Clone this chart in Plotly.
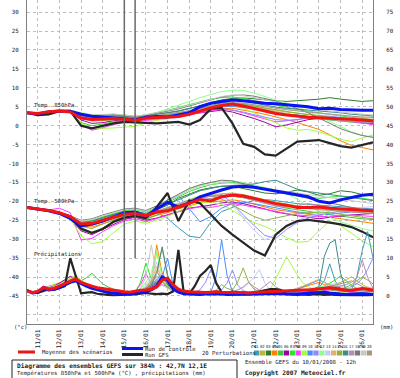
import plotly.graph_objects as go
import pandas as pd

# ---------------- time axes ----------------
t12 = pd.date_range("2008-01-10 12:00", periods=33, freq="12h")   # temperatures
t6 = pd.date_range("2008-01-10 12:00", periods=65, freq="6h")     # precipitation
day_ticks = pd.date_range("2008-01-11", "2008-01-26", freq="D")
day_labels = ["11/01", "12/01", "13/01", "14/01", "15/01", "16/01", "17/01", "18/01",
              "19/01", "20/01", "21/01", "22/01", "23/01", "24/01", "25/01", "26/01"]

member_names = ["01", "02", "03", "04", "05", "06", "07", "08", "09", "10",
                "11", "12", "13", "14", "15", "16", "17", "18", "19", "20"]
member_colors = ["#3c9cbc", "#c0b43c", "#2d7d2d", "#ff8000", "#3cc83c", "#a000a0", "#28e628",
                 "#ff3cff", "#a0ff3c", "#4c8cff", "#8c8cff", "#8cff8c", "#c8c8ff", "#e0b070",
                 "#8cb43c", "#3c8c8c", "#b48cb4", "#787878", "#c8c8c8", "#a89880"]

# ---------------- mean / control / GFS ----------------
mean_t850 = [3.4, 3.2, 3.7, 3.9, 3.6, 2.0, 1.6, 1.8, 1.9, 1.7, 1.4, 2.0, 2.1, 2.2, 2.4, 3.0, 3.9,
             4.7, 5.3, 5.7, 5.2, 4.5, 3.7, 3.2, 2.8, 2.5, 2.2, 2.1, 1.9, 1.8, 1.7, 1.4, 1.3]
ctrl_t850 = [3.4, 3.1, 3.6, 3.9, 3.8, 3.0, 2.5, 2.3, 2.2, 1.8, 1.5, 2.2, 2.4, 2.3, 2.8, 3.4, 5.0,
             5.9, 6.4, 6.8, 6.6, 6.3, 5.9, 5.8, 5.6, 5.3, 5.0, 4.5, 4.6, 4.3, 4.1, 4.1, 4.1]
gfs_t850 = [3.4, 2.8, 3.0, 3.8, 3.9, 0.0, -0.7, 0.0, 0.6, 1.0, 0.9, 0.8, 0.6, 0.8, 1.0, 0.3, 1.5,
            4.5, 4.7, 0.6, -4.8, -5.6, -7.6, -7.9, -6.0, -4.2, -4.0, -3.8, -4.6, -5.4, -5.8, -5.2, -4.4]

mean_t500 = [-21.6, -22.0, -22.4, -23.0, -24.0, -26.0, -25.8, -25.0, -24.2, -23.4, -23.2, -23.8,
             -22.8, -22.5, -21.5, -20.5, -19.5, -19.9, -18.8, -18.3, -18.6, -19.2, -20.0, -20.6,
             -21.0, -21.6, -21.6, -21.5, -21.8, -22.0, -22.3, -22.4, -22.5]
ctrl_t500 = [-21.6, -22.0, -22.5, -23.2, -24.5, -26.5, -26.0, -25.2, -24.0, -23.0, -22.8, -24.0,
             -22.0, -20.2, -21.5, -20.5, -18.8, -17.8, -17.0, -16.2, -16.0, -16.3, -16.8, -17.3,
             -17.9, -18.4, -18.8, -20.0, -20.4, -19.6, -19.0, -18.4, -18.1]
gfs_t500 = [-21.6, -22.0, -22.4, -23.0, -24.2, -27.2, -28.3, -27.3, -25.4, -24.3, -23.8, -24.5,
            -21.5, -17.8, -25.2, -19.8, -20.5, -23.5, -26.5, -28.8, -31.0, -33.0, -34.3, -28.8,
            -26.5, -25.2, -24.9, -25.2, -25.6, -26.1, -26.8, -28.0, -29.5]

mean_rr = [1.4, 0.9, 1.2, 2.2, 1.8, 2.0, 2.6, 3.2, 3.9, 4.5, 3.6, 3.0, 2.6,
           2.2, 2.0, 1.7, 1.5, 1.2, 1.1, 1.0, 1.3, 1.5, 1.6, 1.8, 2.4, 4.2,
           4.7, 3.0, 1.8, 1.3, 1.1, 1.0, 0.9, 0.9, 1.0, 1.1, 1.0, 0.9, 0.8,
           0.9, 0.9, 0.8, 0.9, 1.0, 1.1, 1.2, 1.3, 1.4, 1.4, 1.5, 1.5, 1.6,
           1.6, 1.8, 2.0, 2.2, 2.2, 2.0, 1.7, 1.5, 1.5, 1.8, 2.0, 1.8, 1.6]
ctrl_rr = [1.4, 0.8, 1.0, 2.0, 1.6, 1.8, 2.2, 3.0, 3.6, 4.0, 3.2, 2.6, 2.0,
           1.6, 1.2, 0.9, 0.7, 0.6, 0.5, 0.5, 0.7, 0.9, 1.2, 1.6, 2.6, 5.0,
           4.2, 2.0, 1.0, 0.6, 0.5, 0.4, 0.4, 0.5, 0.5, 0.6, 0.5, 0.4, 0.4,
           0.5, 0.5, 0.4, 0.4, 0.5, 0.6, 0.6, 0.7, 0.6, 0.5, 0.5, 0.6, 0.6,
           0.7, 0.8, 0.9, 1.0, 0.8, 0.6, 0.5, 0.4, 0.4, 0.5, 0.6, 0.5, 0.4]
gfs_rr = [1.5, 0.9, 0.8, 1.4, 1.8, 1.6, 2.2, 2.6, 10.0, 5.2, 0.7, 0.9, 1.0,
          0.6, 0.4, 0.3, 0.2, 0.2, 0.3, 0.3, 0.4, 0.6, 0.8, 0.6, 0.5, 0.6,
          0.5, 1.2, 12.2, 0.8, 0.6, 2.5, 5.3, 6.6, 8.2, 3.4, 1.0, 0.8, 1.2,
          0.6, 0.5, 0.4, 0.6, 1.2, 1.5, 1.8, 1.8, 1.6, 0.5, 0.4, 0.3, 0.4,
          0.3, 0.4, 0.5, 0.3, 0.4, 0.3, 0.2, 0.3, 0.2, 0.3, 0.2, 0.2, 0.3]

# one perturbation with an aberrant precipitation value on 15/01
spike_times = ["2008-01-15 00:00", "2008-01-15 06:00", "2008-01-15 12:00"]
spike_mm = [1.6, 20000.0, 10.0]

# ---------------- 20 perturbations : T850 ----------------
t850_m01 = [3.4, 3.2, 3.6, 3.9, 3.7, 2.4, 1.8, 2.0, 2.2, 2.0, 1.7, 2.3, 2.6, 2.9, 3.3, 3.8, 4.6, 5.4, 6.0, 6.2, 5.8, 5.0, 4.2, 3.6, 3.1, 2.8, 2.6, 2.2, 1.8, 1.5, 1.2, 0.9, 0.8]
t850_m02 = [3.3, 3.1, 3.5, 4.0, 3.9, 2.8, 2.4, 2.3, 2.4, 2.1, 1.9, 2.1, 2.3, 2.5, 3.0, 3.6, 4.2, 5.0, 5.6, 5.9, 5.6, 5.2, 4.6, 4.0, 3.6, 3.3, 3.0, 2.6, 2.4, 2.0, 1.7, 1.9, 2.1]
t850_m03 = [3.4, 3.3, 3.7, 4.0, 3.8, 3.2, 2.6, 2.5, 2.6, 2.4, 2.0, 2.5, 2.9, 3.3, 3.8, 4.5, 5.3, 6.1, 6.8, 7.2, 7.3, 7.1, 6.8, 6.6, 6.4, 6.5, 6.8, 7.0, 7.4, 7.0, 6.6, 6.4, 6.6]
t850_m04 = [3.4, 3.0, 3.4, 3.8, 3.7, 2.2, 1.5, 1.6, 1.9, 1.8, 1.5, 1.8, 2.0, 2.2, 2.5, 3.0, 3.6, 4.1, 4.5, 4.6, 4.2, 3.6, 3.0, 2.4, 1.6, 0.8, 0.0, -1.0, -2.4, -4.0, -5.2, -5.9, -6.4]
t850_m05 = [3.4, 3.1, 3.5, 3.9, 3.6, 0.8, 0.0, 0.4, 1.0, 1.3, 1.2, 1.6, 1.9, 2.0, 2.4, 3.0, 3.8, 4.4, 5.0, 5.3, 5.0, 4.6, 4.0, 3.5, 3.1, 2.8, 2.3, 1.9, 1.5, 1.2, 1.0, 0.6, 0.4]
t850_m06 = [3.4, 3.2, 3.6, 3.9, 3.7, 1.5, 0.6, 0.8, 1.3, 1.6, 1.5, 1.9, 2.1, 2.3, 2.6, 3.0, 3.4, 3.8, 4.1, 3.6, 2.8, 1.9, 0.9, -0.3, 0.2, 1.0, 1.6, 1.9, 2.0, 1.6, 1.2, 0.8, 0.6]
t850_m07 = [3.4, 3.2, 3.6, 4.0, 3.9, 3.0, 2.6, 2.8, 3.0, 2.8, 2.5, 2.8, 3.3, 4.0, 4.8, 5.6, 6.4, 7.0, 7.4, 7.6, 7.2, 6.6, 5.9, 5.3, 4.8, 4.3, 3.8, 3.4, 2.9, 2.6, 2.2, 2.0, 2.3]
t850_m08 = [3.4, 3.1, 3.5, 3.8, 3.6, 0.2, -1.2, -0.6, 0.3, 0.9, 1.0, 1.4, 1.6, 1.9, 2.2, 2.8, 3.5, 4.0, 4.3, 4.1, 3.4, 2.7, 1.8, 1.0, 1.2, 1.6, 2.0, 2.2, 1.9, 1.5, 1.0, 0.6, 0.3]
t850_m09 = [3.4, 3.2, 3.6, 3.9, 3.6, 0.6, -0.6, -0.7, -0.6, -0.4, -0.2, 0.8, 1.4, 1.8, 2.4, 3.2, 4.2, 5.0, 5.6, 5.4, 4.6, 3.4, 2.0, 0.6, -0.6, -1.2, -1.0, -1.6, -2.6, -3.6, -4.2, -3.2, -2.4]
t850_m10 = [3.4, 3.2, 3.6, 3.9, 3.8, 2.6, 2.0, 2.1, 2.3, 2.0, 1.6, 2.0, 2.2, 2.4, 2.7, 3.2, 3.9, 4.6, 5.0, 5.1, 4.8, 4.4, 3.8, 3.3, 2.9, 2.6, 2.4, 2.1, 2.0, 1.6, 1.2, 1.0, 0.9]
t850_m11 = [3.4, 3.1, 3.5, 3.9, 3.7, 2.5, 1.9, 2.0, 2.2, 1.9, 1.6, 2.1, 2.4, 2.6, 3.0, 3.5, 4.0, 4.4, 4.6, 4.2, 3.6, 2.9, 2.2, 1.6, 1.4, 1.6, 2.2, 2.6, 2.5, 2.1, 1.8, 1.5, 1.3]
t850_m12 = [3.4, 3.3, 3.7, 4.1, 4.0, 3.4, 2.9, 2.9, 3.0, 2.8, 2.4, 2.9, 3.5, 4.4, 5.3, 6.4, 7.4, 8.3, 9.0, 9.4, 9.3, 8.6, 7.6, 6.8, 6.0, 5.0, 3.8, 2.4, 1.0, -0.4, -1.6, -2.6, -3.0]
t850_m13 = [3.4, 3.2, 3.6, 3.9, 3.8, 2.9, 2.3, 2.4, 2.5, 2.3, 2.1, 2.5, 2.8, 3.1, 3.5, 4.0, 4.6, 5.2, 5.8, 6.2, 6.0, 5.6, 5.1, 4.7, 4.3, 4.0, 3.6, 3.2, 3.0, 2.7, 2.4, 2.2, 2.1]
t850_m14 = [3.4, 3.1, 3.5, 3.9, 3.7, 2.7, 2.1, 2.2, 2.4, 2.2, 1.8, 2.2, 2.5, 2.7, 3.0, 3.4, 3.9, 4.5, 5.1, 5.5, 5.4, 5.0, 4.4, 3.8, 3.2, 2.6, 2.0, 1.8, 1.6, 1.4, 1.3, 1.4, 1.5]
t850_m15 = [3.4, 3.2, 3.6, 3.9, 3.7, 2.0, 1.2, 1.3, 1.6, 1.7, 1.6, 2.0, 2.4, 2.8, 3.3, 3.9, 4.5, 5.2, 5.8, 6.0, 5.7, 5.2, 4.7, 4.2, 3.7, 3.3, 2.9, 2.5, 2.2, 1.9, 1.5, 1.1, 0.9]
t850_m16 = [3.4, 3.2, 3.6, 4.0, 3.8, 2.8, 2.2, 2.4, 2.6, 2.4, 2.1, 2.6, 3.0, 3.4, 3.9, 4.6, 5.2, 5.8, 6.4, 6.7, 6.5, 6.0, 5.4, 4.9, 4.6, 4.4, 4.2, 4.0, 3.7, 3.4, 3.0, 2.8, 2.6]
t850_m17 = [3.4, 3.1, 3.5, 3.9, 3.7, 2.3, 1.6, 1.7, 2.0, 1.9, 1.7, 2.1, 2.4, 2.7, 3.1, 3.6, 4.2, 4.8, 5.3, 5.5, 5.2, 4.7, 4.0, 3.4, 2.9, 2.5, 2.1, 1.8, 1.6, 1.3, 1.1, 0.9, 0.8]
t850_m18 = [3.4, 3.2, 3.6, 4.0, 3.9, 3.1, 2.7, 2.8, 2.9, 2.6, 2.3, 2.7, 3.2, 3.8, 4.4, 5.2, 6.0, 6.8, 7.6, 8.0, 8.1, 7.8, 7.2, 6.5, 5.6, 4.6, 3.4, 2.0, 0.6, -0.8, -1.8, -2.6, -3.1]
t850_m19 = [3.4, 3.2, 3.6, 4.0, 3.9, 3.2, 2.8, 3.0, 3.1, 2.8, 2.5, 2.9, 3.4, 4.0, 4.6, 5.4, 6.2, 7.0, 7.7, 8.1, 7.9, 7.4, 6.8, 6.1, 5.6, 5.1, 4.6, 4.2, 3.9, 3.6, 3.3, 3.0, 2.8]
t850_m20 = [3.4, 3.1, 3.5, 3.9, 3.7, 2.6, 2.0, 2.1, 2.3, 2.1, 1.8, 2.3, 2.7, 3.0, 3.4, 3.9, 4.5, 5.1, 5.7, 6.0, 5.9, 5.5, 5.0, 4.6, 4.2, 3.9, 3.6, 3.4, 3.1, 2.8, 2.5, 2.3, 2.2]

# ---------------- 20 perturbations : T500 ----------------
t500_m01 = [-21.6, -22.0, -22.4, -23.0, -23.8, -25.5, -25.8, -25.0, -24.0, -23.2, -23.0, -24.0, -23.0, -24.5, -27.0, -29.2, -29.6, -25.5, -22.7, -21.5, -20.5, -19.8, -19.5, -19.8, -20.2, -20.6, -20.8, -21.0, -21.2, -21.3, -21.6, -21.8, -22.0]
t500_m02 = [-21.6, -22.0, -22.5, -23.1, -24.2, -26.0, -26.3, -25.4, -24.6, -23.8, -23.4, -24.2, -23.2, -22.0, -20.8, -19.8, -19.0, -18.6, -18.0, -17.8, -18.2, -18.9, -19.6, -20.2, -20.7, -21.2, -21.6, -21.8, -22.0, -22.4, -22.8, -23.0, -23.2]
t500_m03 = [-21.6, -22.0, -22.4, -23.0, -24.0, -25.6, -25.2, -24.2, -23.4, -22.6, -22.6, -23.4, -22.2, -21.0, -19.2, -18.0, -17.0, -16.4, -16.0, -16.0, -16.5, -17.2, -17.8, -18.0, -17.6, -17.0, -17.5, -18.4, -18.0, -17.2, -17.5, -18.2, -18.6]
t500_m04 = [-21.6, -22.1, -22.5, -23.2, -24.3, -26.4, -26.8, -25.8, -25.0, -24.2, -23.8, -24.4, -23.8, -23.0, -22.0, -21.2, -20.4, -20.2, -19.8, -19.6, -20.0, -20.8, -21.6, -22.2, -22.6, -23.0, -23.4, -23.8, -24.2, -24.6, -25.0, -25.4, -25.8]
t500_m05 = [-21.6, -22.0, -22.4, -23.0, -24.5, -27.5, -28.5, -27.0, -25.6, -24.6, -24.0, -24.8, -23.6, -22.4, -21.0, -20.0, -19.4, -19.8, -19.0, -18.6, -19.0, -19.8, -20.6, -21.2, -21.8, -22.2, -22.6, -23.2, -23.6, -24.0, -24.4, -24.6, -24.8]
t500_m06 = [-21.6, -22.0, -22.5, -23.1, -24.6, -27.8, -28.8, -27.4, -26.0, -24.8, -24.2, -25.0, -24.4, -23.6, -22.6, -21.8, -21.4, -21.0, -20.4, -20.2, -20.6, -21.2, -22.0, -22.8, -23.4, -23.8, -24.2, -24.6, -24.2, -23.8, -23.6, -23.4, -23.2]
t500_m07 = [-21.6, -22.0, -22.4, -23.0, -24.0, -25.4, -25.0, -24.0, -23.2, -22.4, -22.2, -22.8, -21.8, -20.4, -18.8, -17.4, -16.4, -15.6, -15.2, -15.0, -15.4, -16.0, -16.6, -17.2, -17.8, -18.4, -18.8, -19.2, -19.0, -18.6, -18.8, -19.2, -19.6]
t500_m08 = [-21.6, -22.0, -22.3, -21.8, -23.0, -30.2, -29.8, -28.0, -26.4, -25.2, -24.6, -25.4, -24.6, -23.8, -22.8, -22.0, -21.4, -21.6, -21.0, -20.6, -21.0, -21.6, -22.2, -22.8, -23.2, -23.6, -23.8, -24.0, -24.0, -23.8, -23.6, -23.8, -24.0]
t500_m09 = [-21.6, -22.0, -22.4, -23.0, -24.8, -29.0, -31.2, -30.6, -28.4, -26.0, -25.2, -25.8, -25.0, -24.0, -22.6, -21.4, -20.4, -20.2, -20.8, -22.4, -24.2, -25.6, -26.6, -28.0, -29.6, -30.8, -30.6, -27.8, -25.2, -26.4, -28.4, -30.4, -32.0]
t500_m10 = [-21.6, -22.0, -22.4, -23.0, -24.0, -25.8, -25.6, -24.8, -24.0, -23.2, -23.0, -23.8, -21.8, -19.6, -18.4, -22.0, -25.4, -24.0, -21.8, -20.6, -20.2, -20.6, -21.2, -21.8, -22.4, -22.8, -23.2, -23.6, -23.4, -23.0, -22.8, -22.6, -22.4]
t500_m11 = [-21.6, -22.0, -22.5, -23.1, -24.2, -26.2, -26.4, -25.4, -24.6, -23.8, -23.4, -24.0, -23.0, -22.0, -21.0, -20.0, -19.2, -18.6, -18.2, -20.5, -23.6, -26.4, -29.0, -29.8, -27.4, -25.6, -24.4, -23.6, -23.0, -22.6, -22.4, -22.2, -22.0]
t500_m12 = [-21.6, -22.0, -22.4, -22.9, -23.8, -25.2, -24.8, -23.8, -23.0, -22.2, -22.0, -22.6, -21.4, -19.8, -18.2, -16.8, -15.8, -15.0, -14.8, -14.6, -15.0, -15.6, -16.2, -17.0, -18.0, -19.4, -21.2, -22.8, -24.2, -25.4, -26.4, -27.2, -27.8]
t500_m13 = [-21.6, -22.0, -22.4, -23.0, -24.0, -25.6, -25.4, -24.6, -23.8, -23.0, -22.8, -23.6, -22.6, -21.4, -20.4, -19.6, -19.0, -18.6, -18.8, -21.0, -24.4, -27.6, -30.2, -28.6, -26.4, -25.0, -24.0, -23.2, -22.6, -22.2, -21.8, -21.6, -21.4]
t500_m14 = [-21.6, -22.0, -22.5, -23.1, -24.2, -26.2, -26.0, -25.0, -24.2, -23.4, -23.2, -23.8, -22.8, -21.8, -20.6, -19.6, -18.8, -18.4, -18.0, -18.2, -18.8, -19.6, -20.4, -21.0, -21.4, -21.6, -21.8, -22.0, -22.2, -22.4, -22.6, -22.8, -23.0]
t500_m15 = [-21.6, -22.0, -22.4, -23.0, -24.2, -26.6, -27.2, -26.0, -24.8, -23.8, -23.4, -24.0, -23.0, -22.0, -20.8, -19.6, -18.6, -18.4, -19.4, -21.0, -22.6, -24.0, -25.0, -24.4, -23.6, -23.2, -23.0, -22.8, -23.0, -23.4, -23.8, -24.2, -24.6]
t500_m16 = [-21.6, -22.0, -22.4, -23.0, -24.0, -25.6, -25.2, -24.4, -23.6, -22.8, -22.6, -23.2, -22.0, -20.8, -19.4, -18.2, -17.2, -16.6, -16.0, -15.8, -15.6, -15.4, -14.8, -14.4, -15.6, -16.8, -17.4, -17.8, -18.2, -18.6, -19.0, -19.4, -19.8]
t500_m17 = [-21.6, -22.0, -22.4, -23.0, -24.0, -25.8, -26.0, -25.2, -24.4, -23.6, -23.4, -24.0, -23.0, -22.0, -21.0, -20.2, -19.6, -19.2, -18.8, -18.6, -19.0, -19.8, -20.6, -21.2, -21.6, -21.0, -20.6, -21.0, -21.6, -22.0, -22.4, -22.6, -22.8]
t500_m18 = [-21.6, -22.0, -22.4, -23.0, -23.8, -25.0, -24.6, -23.6, -22.8, -22.0, -21.8, -22.4, -21.2, -19.6, -18.0, -16.6, -15.6, -15.0, -14.4, -14.6, -15.2, -16.0, -16.8, -17.4, -18.0, -18.6, -19.2, -19.8, -20.4, -21.0, -21.6, -22.2, -22.8]
t500_m19 = [-21.6, -22.0, -22.4, -23.0, -23.9, -25.2, -24.8, -23.8, -23.0, -22.2, -22.0, -22.6, -21.6, -20.0, -18.4, -17.0, -16.0, -15.4, -15.0, -15.2, -15.6, -16.2, -16.6, -17.0, -17.4, -17.8, -18.2, -18.6, -19.0, -19.4, -19.8, -20.2, -20.6]
t500_m20 = [-21.6, -22.0, -22.4, -23.0, -24.0, -25.8, -25.6, -24.8, -24.0, -23.2, -23.0, -23.6, -22.6, -21.6, -20.6, -19.8, -19.0, -18.6, -18.4, -18.6, -19.0, -19.6, -20.2, -20.8, -21.2, -21.6, -22.0, -22.2, -22.4, -22.6, -22.8, -23.0, -23.2]

# ---------------- 20 perturbations : precipitation (mm / 6h) ----------------
rr_m01 = [1.6, 1.0, 1.4, 2.4, 2.0, 2.2, 3.0, 3.6, 4.2, 5.0, 3.8, 2.8, 2.4,
          2.0, 1.6, 1.3, 1.1, 0.9, 0.8, 0.7, 1.0, 1.4, 2.2, 3.0, 4.5, 6.0,
          3.5, 2.0, 1.2, 0.8, 0.6, 0.5, 0.6, 0.8, 1.0, 1.4, 1.2, 0.8, 0.7,
          0.6, 0.6, 0.8, 1.0, 1.2, 1.0, 0.8, 0.7, 0.6, 0.6, 0.8, 1.0, 1.2,
          1.5, 1.8, 2.2, 4.0, 8.5, 4.0, 1.6, 1.2, 1.6, 5.0, 12.0, 17.0, 10.0]
rr_m02 = [1.4, 0.8, 1.2, 2.0, 2.6, 3.0, 3.4, 4.0, 4.6, 5.4, 4.2, 3.2, 2.6,
          2.2, 1.8, 1.4, 1.0, 0.8, 0.6, 0.5, 0.8, 1.2, 1.8, 3.0, 6.5, 12.5,
          5.0, 2.0, 1.0, 0.8, 0.6, 0.5, 0.6, 0.8, 1.0, 1.2, 1.0, 0.8, 0.7,
          0.6, 0.6, 0.8, 1.0, 1.2, 1.4, 1.6, 1.4, 1.2, 1.0, 0.9, 1.0, 1.2,
          1.4, 1.6, 1.8, 2.2, 2.6, 3.2, 3.6, 4.2, 5.1, 4.0, 3.0, 2.2, 1.6]
rr_m03 = [1.5, 0.9, 1.0, 1.8, 1.6, 1.8, 2.4, 3.0, 3.6, 4.0, 3.2, 2.6, 2.2,
          1.8, 1.5, 1.2, 1.0, 0.8, 0.6, 0.5, 0.7, 1.0, 1.4, 2.0, 3.2, 4.5,
          3.0, 1.6, 1.0, 0.8, 0.6, 0.5, 0.4, 0.4, 0.5, 0.6, 0.5, 0.4, 0.4,
          0.3, 0.3, 0.4, 0.5, 0.6, 0.5, 0.4, 0.4, 0.5, 0.6, 0.7, 0.8, 0.9,
          1.0, 1.2, 1.6, 2.4, 3.0, 2.6, 2.0, 1.6, 1.4, 1.2, 1.0, 0.8, 0.7]
rr_m04 = [1.4, 0.8, 1.1, 2.0, 1.7, 1.9, 2.4, 3.0, 3.8, 4.4, 3.4, 2.8, 2.4,
          2.0, 1.8, 1.5, 1.2, 1.0, 0.8, 0.7, 1.0, 1.4, 2.0, 4.0, 13.5, 6.0,
          2.5, 1.4, 1.0, 0.8, 0.6, 0.5, 0.6, 0.7, 0.8, 0.7, 0.6, 0.5, 0.5,
          0.5, 0.5, 0.6, 0.8, 1.0, 1.2, 1.4, 1.6, 1.4, 1.2, 1.4, 1.8, 2.2,
          2.8, 3.2, 3.6, 3.0, 2.6, 2.2, 1.8, 1.6, 1.4, 1.2, 1.0, 0.8, 0.7]
rr_m05 = [1.6, 1.0, 1.3, 2.4, 2.0, 2.4, 3.0, 3.4, 3.8, 4.2, 4.0, 4.8, 6.0,
          4.6, 3.2, 2.4, 1.8, 1.2, 0.9, 0.7, 0.9, 1.2, 1.6, 2.4, 3.6, 5.2,
          3.8, 2.2, 1.4, 1.0, 0.8, 0.6, 0.5, 0.5, 0.6, 0.7, 0.6, 0.5, 0.5,
          0.5, 0.6, 0.7, 0.8, 0.9, 1.0, 1.1, 1.0, 0.9, 0.8, 0.8, 0.9, 1.0,
          1.1, 1.2, 1.4, 1.6, 1.8, 2.0, 1.8, 1.6, 1.4, 1.2, 1.1, 1.0, 0.9]
rr_m06 = [1.5, 1.0, 1.4, 2.6, 2.2, 2.6, 3.4, 4.2, 5.2, 4.6, 3.6, 2.8, 2.2,
          1.8, 1.4, 1.1, 0.9, 0.7, 0.5, 0.5, 0.7, 1.0, 1.5, 2.2, 3.4, 4.6,
          3.2, 1.8, 1.0, 0.7, 0.5, 0.4, 0.4, 0.5, 0.6, 0.6, 0.5, 0.5, 0.4,
          0.4, 0.4, 0.5, 0.6, 0.8, 1.0, 1.2, 1.0, 0.8, 0.7, 0.7, 0.8, 0.9,
          1.0, 1.2, 1.4, 1.6, 1.8, 1.6, 1.4, 1.2, 1.0, 0.9, 0.8, 0.7, 0.6]
rr_m07 = [1.4, 0.9, 1.2, 2.2, 1.8, 2.0, 2.8, 3.4, 4.0, 4.8, 3.8, 3.0, 2.6,
          2.2, 1.8, 1.4, 1.1, 0.9, 0.7, 0.6, 1.0, 3.6, 8.7, 4.4, 2.8, 3.6,
          2.6, 1.6, 1.0, 0.8, 0.6, 0.5, 0.5, 0.6, 0.7, 0.8, 0.7, 0.6, 0.6,
          0.5, 0.6, 0.8, 1.0, 1.2, 1.4, 1.2, 1.0, 0.9, 0.8, 0.9, 1.0, 1.2,
          1.4, 1.6, 2.0, 2.6, 3.4, 4.2, 5.3, 4.0, 2.8, 2.0, 1.6, 1.4, 1.2]
rr_m08 = [1.5, 0.9, 1.2, 2.2, 1.9, 2.2, 2.8, 3.6, 4.4, 4.8, 3.8, 3.0, 2.4,
          2.0, 1.6, 1.2, 1.0, 0.8, 0.6, 0.6, 1.2, 3.0, 6.0, 3.2, 2.4, 3.0,
          2.4, 1.4, 0.9, 0.7, 0.5, 0.4, 0.4, 0.5, 0.6, 0.7, 0.6, 0.5, 0.4,
          0.4, 0.5, 0.6, 0.8, 1.0, 1.2, 1.0, 0.8, 0.7, 0.6, 0.6, 0.7, 0.8,
          0.9, 1.0, 1.2, 1.4, 1.6, 1.4, 1.2, 1.0, 0.9, 0.8, 0.7, 0.6, 0.5]
rr_m09 = [1.6, 1.0, 1.3, 2.2, 2.0, 2.4, 3.0, 3.8, 4.4, 5.2, 4.2, 3.2, 2.6,
          2.2, 1.8, 1.4, 1.0, 0.8, 0.6, 0.6, 0.8, 1.2, 2.0, 4.0, 11.3, 5.0,
          2.6, 1.4, 1.0, 0.8, 0.6, 0.5, 0.6, 0.8, 1.0, 1.2, 1.0, 0.8, 0.7,
          0.7, 0.8, 0.9, 1.0, 1.2, 1.4, 1.8, 4.5, 7.5, 10.4, 8.0, 5.5, 3.5,
          2.5, 1.8, 1.4, 1.2, 1.0, 0.9, 0.8, 0.7, 0.6, 0.6, 0.5, 0.5, 0.5]
rr_m10 = [1.4, 0.8, 1.1, 2.0, 1.8, 2.0, 2.6, 3.2, 3.8, 4.4, 3.6, 2.8, 2.2,
          1.8, 1.4, 1.1, 0.9, 0.7, 0.6, 0.5, 0.8, 1.2, 1.8, 2.6, 3.6, 5.0,
          10.0, 3.0, 1.4, 0.9, 0.7, 0.6, 0.6, 0.8, 1.0, 5.0, 14.8, 5.5, 1.2,
          0.9, 0.8, 0.8, 0.9, 1.0, 1.2, 1.0, 0.9, 0.8, 0.9, 1.2, 1.8, 2.4,
          3.0, 3.6, 4.2, 3.6, 2.8, 2.0, 1.6, 1.4, 1.2, 1.0, 0.9, 0.8, 0.8]
rr_m11 = [1.5, 0.9, 1.2, 2.2, 1.8, 2.1, 2.8, 3.4, 4.0, 4.6, 3.6, 3.0, 2.4,
          2.0, 1.6, 1.3, 1.0, 0.8, 0.6, 0.5, 0.8, 1.2, 1.8, 2.8, 4.2, 6.0,
          4.0, 2.0, 1.2, 0.9, 0.8, 1.0, 1.6, 3.6, 7.0, 3.0, 1.6, 3.4, 6.9,
          2.8, 1.4, 1.0, 0.9, 1.0, 1.2, 1.4, 1.2, 1.0, 0.9, 1.0, 1.2, 1.4,
          1.6, 1.8, 2.2, 2.6, 2.2, 1.8, 1.6, 1.8, 2.4, 3.2, 4.6, 7.0, 10.0]
rr_m12 = [1.5, 0.9, 1.2, 2.0, 1.8, 2.0, 2.6, 3.2, 3.8, 4.4, 3.6, 2.8, 2.4,
          2.0, 1.6, 1.2, 1.0, 0.8, 0.6, 0.6, 1.0, 1.8, 3.6, 6.0, 12.0, 5.0,
          2.4, 1.4, 1.0, 0.8, 0.7, 0.6, 0.6, 0.7, 0.8, 0.8, 0.7, 0.6, 0.6,
          0.6, 0.7, 0.8, 1.0, 1.2, 1.4, 1.6, 1.4, 1.2, 1.0, 1.2, 1.4, 1.6,
          1.8, 2.0, 2.2, 2.6, 3.0, 2.8, 2.4, 2.0, 1.8, 1.6, 1.4, 1.2, 1.0]
rr_m13 = [1.4, 0.9, 1.1, 2.0, 1.7, 1.9, 2.5, 3.0, 3.6, 4.2, 3.4, 2.8, 2.2,
          1.8, 1.4, 1.1, 0.9, 0.7, 0.6, 0.5, 0.8, 1.4, 2.8, 5.0, 9.0, 4.0,
          2.0, 1.2, 0.9, 0.7, 0.6, 0.5, 0.5, 0.6, 0.7, 0.8, 0.9, 1.0, 1.2,
          1.6, 2.2, 3.4, 5.0, 7.0, 3.4, 1.6, 1.2, 1.0, 0.9, 1.0, 1.2, 1.4,
          1.6, 1.8, 2.0, 2.4, 2.8, 3.2, 2.8, 2.4, 2.0, 1.6, 1.4, 1.2, 1.0]
rr_m14 = [1.5, 1.0, 1.3, 2.2, 1.9, 2.2, 2.8, 3.4, 4.0, 4.6, 3.8, 3.0, 2.4,
          2.0, 1.6, 1.3, 1.0, 0.8, 0.7, 0.6, 0.9, 1.4, 2.4, 4.2, 7.8, 4.0,
          2.2, 1.4, 1.0, 0.8, 0.6, 0.5, 0.5, 0.6, 0.7, 0.8, 0.7, 0.6, 0.6,
          0.6, 0.7, 0.8, 1.0, 1.2, 1.4, 1.6, 1.8, 1.6, 1.4, 1.6, 2.0, 2.6,
          3.2, 3.8, 4.4, 3.6, 2.8, 2.2, 1.8, 1.6, 1.4, 1.6, 2.0, 2.4, 2.0]
rr_m15 = [1.4, 0.9, 1.2, 2.0, 1.8, 2.0, 2.6, 3.2, 3.8, 4.2, 3.4, 2.8, 2.2,
          1.8, 1.4, 1.1, 0.9, 0.7, 0.6, 0.5, 0.8, 1.2, 1.8, 2.6, 3.8, 5.4,
          3.6, 2.0, 1.2, 0.9, 0.7, 0.6, 0.6, 0.8, 1.0, 1.6, 3.0, 2.0, 1.6,
          3.8, 7.4, 3.6, 1.8, 1.2, 1.0, 0.9, 0.8, 0.8, 0.9, 1.0, 1.2, 1.4,
          1.6, 1.8, 2.0, 1.8, 1.6, 1.4, 1.6, 2.2, 3.0, 4.0, 5.0, 4.2, 3.2]
rr_m16 = [1.5, 0.9, 1.2, 2.2, 1.9, 2.1, 2.8, 3.4, 4.0, 4.6, 3.8, 3.0, 2.4,
          2.0, 1.6, 1.2, 1.0, 0.8, 0.6, 0.6, 0.8, 1.2, 1.8, 2.8, 6.0, 13.0,
          5.5, 2.2, 1.2, 0.9, 0.7, 0.6, 0.6, 0.7, 0.8, 0.9, 0.8, 0.7, 0.7,
          0.7, 0.8, 0.9, 1.0, 1.1, 1.2, 1.3, 1.2, 1.1, 1.0, 1.1, 1.2, 1.4,
          1.6, 1.8, 2.5, 10.5, 14.0, 14.8, 6.0, 1.5, 1.2, 1.0, 1.0, 1.2, 1.4]
rr_m17 = [1.4, 0.8, 1.1, 2.0, 1.7, 2.0, 2.6, 3.2, 3.8, 4.4, 3.6, 2.8, 2.2,
          1.8, 1.4, 1.1, 0.9, 0.7, 0.6, 0.5, 0.8, 1.2, 2.0, 3.4, 5.2, 4.0,
          2.2, 1.4, 1.0, 0.8, 0.6, 0.5, 0.5, 0.6, 0.7, 0.8, 0.9, 1.0, 1.2,
          1.6, 2.4, 3.6, 2.4, 1.6, 2.6, 3.8, 2.4, 1.6, 1.2, 1.0, 1.1, 1.2,
          1.4, 1.6, 1.8, 2.0, 2.2, 2.4, 2.6, 3.0, 3.6, 4.8, 9.5, 5.0, 2.0]
rr_m18 = [1.5, 0.9, 1.2, 2.2, 1.9, 2.2, 2.8, 3.6, 4.2, 4.8, 3.8, 3.0, 2.4,
          2.0, 1.6, 1.2, 1.0, 0.8, 0.7, 0.6, 0.8, 1.2, 1.8, 2.6, 3.6, 4.8,
          3.2, 1.8, 1.2, 0.9, 0.7, 0.6, 0.6, 0.7, 0.8, 0.9, 0.8, 0.7, 0.7,
          0.7, 0.8, 0.9, 1.0, 1.1, 1.0, 0.9, 0.8, 0.8, 0.9, 1.0, 1.2, 1.4,
          1.6, 1.8, 2.0, 2.2, 2.4, 2.2, 2.0, 1.8, 1.6, 1.4, 1.3, 1.2, 1.1]
rr_m19 = [1.4, 0.9, 1.2, 2.0, 1.8, 2.0, 2.6, 3.2, 3.8, 4.4, 3.6, 2.8, 2.2,
          1.8, 1.4, 1.1, 0.9, 0.7, 0.6, 0.6, 0.9, 2.0, 5.0, 13.5, 5.0, 2.8,
          2.0, 1.3, 0.9, 0.7, 0.6, 0.5, 0.5, 0.6, 0.7, 0.8, 0.7, 0.6, 0.6,
          0.6, 0.7, 0.8, 1.0, 1.2, 1.4, 1.2, 1.0, 0.9, 0.8, 0.9, 1.0, 1.2,
          1.4, 1.6, 1.8, 2.0, 2.2, 2.0, 1.8, 1.6, 1.4, 1.2, 1.1, 1.0, 0.9]
rr_m20 = [1.5, 1.0, 1.3, 2.2, 1.9, 2.2, 2.9, 3.5, 4.2, 4.8, 3.8, 3.0, 2.4,
          2.0, 1.6, 1.3, 1.0, 0.8, 0.7, 0.6, 0.9, 1.4, 2.2, 3.6, 6.5, 4.0,
          2.4, 1.4, 1.0, 0.8, 0.7, 0.6, 0.6, 0.7, 0.8, 0.9, 0.8, 0.7, 0.7,
          0.7, 0.8, 1.0, 1.2, 1.4, 1.6, 1.4, 1.2, 1.0, 0.9, 1.0, 1.1, 1.3,
          1.5, 1.7, 1.9, 2.2, 2.5, 2.8, 3.2, 3.6, 4.0, 3.2, 2.4, 1.8, 1.4]

t850_members = [t850_m01, t850_m02, t850_m03, t850_m04, t850_m05, t850_m06, t850_m07, t850_m08, t850_m09, t850_m10,
                t850_m11, t850_m12, t850_m13, t850_m14, t850_m15, t850_m16, t850_m17, t850_m18, t850_m19, t850_m20]
t500_members = [t500_m01, t500_m02, t500_m03, t500_m04, t500_m05, t500_m06, t500_m07, t500_m08, t500_m09, t500_m10,
                t500_m11, t500_m12, t500_m13, t500_m14, t500_m15, t500_m16, t500_m17, t500_m18, t500_m19, t500_m20]
rr_members = [rr_m01, rr_m02, rr_m03, rr_m04, rr_m05, rr_m06, rr_m07, rr_m08, rr_m09, rr_m10,
              rr_m11, rr_m12, rr_m13, rr_m14, rr_m15, rr_m16, rr_m17, rr_m18, rr_m19, rr_m20]

for s in t850_members + t500_members + [mean_t850, ctrl_t850, gfs_t850, mean_t500, ctrl_t500, gfs_t500]:
    assert len(s) == 33, len(s)
for s in rr_members + [mean_rr, ctrl_rr, gfs_rr]:
    assert len(s) == 65, len(s)

# ---------------- figure ----------------
W, H = 400, 378
L, R, T, B = 27, 27, 0, 54
Y_RANGE = [-52.4, 33.2]
RR_OFFSET = 45  # precipitation axis: 0 mm sits at -45 on the temperature axis
FONT = "DejaVu Sans Mono, monospace"

fig = go.Figure()

def add_line(x, y, color, width, axis="y"):
    fig.add_trace(go.Scatter(x=x, y=y, mode="lines", yaxis=axis,
                             line=dict(color=color, width=width), hoverinfo="skip",
                             showlegend=False))

for k in range(20):
    add_line(t12, t850_members[k], member_colors[k], 1)
    add_line(t12, t500_members[k], member_colors[k], 1)
    add_line(t6, rr_members[k], member_colors[k], 1, "y2")

add_line(spike_times, spike_mm, "#6a6a6a", 1.5, "y2")

for tt, series, axis in [(t12, gfs_t850, "y"), (t12, gfs_t500, "y"), (t6, gfs_rr, "y2")]:
    add_line(tt, series, "#262626", 2.2, axis)
for tt, series, axis in [(t12, ctrl_t850, "y"), (t12, ctrl_t500, "y"), (t6, ctrl_rr, "y2")]:
    add_line(tt, series, "#0a14f0", 3, axis)
for tt, series, axis in [(t12, mean_t850, "y"), (t12, mean_t500, "y"), (t6, mean_rr, "y2")]:
    add_line(tt, series, "#f01414", 3, axis)

left_ticks = list(range(-50, 35, 5))
left_text = ["" if v == -50 else str(v) for v in left_ticks]
right_ticks = list(range(0, 80, 5))

fig.update_layout(
    width=W, height=H, margin=dict(l=L, r=R, t=T, b=B, autoexpand=False),
    paper_bgcolor="white", plot_bgcolor="white",
    font=dict(family=FONT, size=6, color="#222222"),
    showlegend=False,
    xaxis=dict(type="date", range=["2008-01-10 12:00", "2008-01-26 12:00"],
               tickvals=list(day_ticks), ticktext=day_labels, tickangle=-90,
               tickfont=dict(family=FONT, size=6.3, color="#222222"),
               showgrid=True, gridcolor="#bdbdbd", griddash="dot", gridwidth=1,
               showline=True, linecolor="#808080", linewidth=1, zeroline=False,
               ticks="", ticklabelstandoff=2, fixedrange=True, automargin=False),
    yaxis=dict(range=Y_RANGE, tickvals=left_ticks, ticktext=left_text,
               tickfont=dict(family=FONT, size=5.8, color="#222222"),
               showgrid=True, gridcolor="#bdbdbd", griddash="dot", gridwidth=1,
               showline=True, linecolor="#808080", linewidth=1, zeroline=False,
               ticks="", ticklabelstandoff=6, fixedrange=True, automargin=False),
    yaxis2=dict(range=[Y_RANGE[0] + RR_OFFSET, Y_RANGE[1] + RR_OFFSET], overlaying="y", side="right",
                tickvals=right_ticks, ticktext=[str(v) for v in right_ticks],
                tickfont=dict(family=FONT, size=5.8, color="#222222"),
                showgrid=False, showline=True, linecolor="#808080", linewidth=1,
                zeroline=False, ticks="", ticklabelstandoff=11, fixedrange=True, automargin=False),
)

# pixel -> paper helpers for the decoration below the plot
PW, PH = W - L - R, H - T - B
def px(x):
    return (x - L) / PW
def py(y):
    return (H - B - y) / PH

def text(x, y, s, size=5.6, bold=False, anchor="left"):
    fig.add_annotation(x=px(x), y=py(y), xref="paper", yref="paper", text=("<b>%s</b>" % s) if bold else s,
                       showarrow=False, xanchor=anchor, yanchor="middle",
                       font=dict(family=FONT, size=size, color="#222222"))

# labels inside the plot
text(32, 105, "Temp. 850hPa")
text(32, 201, "Temp. 500hPa")
text(32, 254, "Précipitations")
text(12, 327, "(°c)")
text(378, 327, "(mm)")

# legend lines
fig.add_shape(type="line", xref="paper", yref="paper", x0=px(18), x1=px(35), y0=py(352), y1=py(352),
              line=dict(color="#f01414", width=3))
text(40, 352, "Moyenne des scénarios")
fig.add_shape(type="line", xref="paper", yref="paper", x0=px(122), x1=px(143), y0=py(348.5), y1=py(348.5),
              line=dict(color="#0a14f0", width=3))
fig.add_shape(type="line", xref="paper", yref="paper", x0=px(122), x1=px(143), y0=py(354.5), y1=py(354.5),
              line=dict(color="#262626", width=3))
text(143, 348.5, "Run de contrôle")
text(143, 355, "Run GFS")
text(200, 352.5, "20 Perturbations")

cell = 5.93
for k in range(20):
    x0 = 254 + k * cell
    fig.add_shape(type="rect", xref="paper", yref="paper", x0=px(x0), x1=px(x0 + cell - 0.6),
                  y0=py(355.5), y1=py(350.5), line=dict(width=0), fillcolor=member_colors[k])
    text(x0 + cell / 2, 346.5, member_names[k], size=3.9, anchor="center")

# title box
fig.add_shape(type="rect", xref="paper", yref="paper", x0=px(12), x1=px(237), y0=py(382), y1=py(360),
              line=dict(color="#222222", width=1), fillcolor="rgba(0,0,0,0)")
text(15, 365.5, "Diagramme des ensembles GEFS sur 384h : 42,7N 12,1E", size=6.2, bold=True)
text(15, 373, "Températures 850hPa et 500hPa (°C) , précipitations (mm)", size=5.6)
text(243, 362, "Ensemble GEFS du 10/01/2008 - 12h", size=5.6)
text(243, 373, "Copyright 2007 Meteociel.fr", size=6.2, bold=True)

fig.write_html("out.html", config={"displayModeBar": False, "staticPlot": True},
               post_script="document.body.style.margin='0';document.body.style.overflow='hidden';")
